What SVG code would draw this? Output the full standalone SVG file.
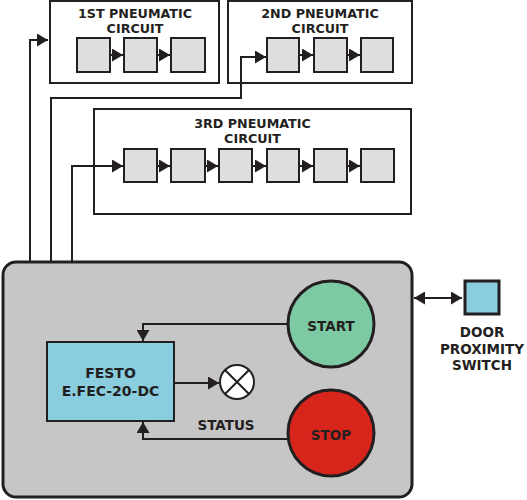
<svg xmlns="http://www.w3.org/2000/svg" width="527" height="500" viewBox="0 0 527 500">
<defs>
<marker id="ah" markerUnits="userSpaceOnUse" markerWidth="12" markerHeight="13" refX="11" refY="6.5" orient="auto-start-reverse" viewBox="0 0 12 13">
<path d="M0,0 L11,6.5 L0,13 z" fill="#231f20"/>
</marker>
<style>
.frame{fill:#fff;stroke:#231f20;stroke-width:2}
.cell{fill:#dedede;stroke:#231f20;stroke-width:2}
.t{font-family:"DejaVu Sans",Verdana,sans-serif;font-weight:bold;fill:#231f20;text-anchor:middle}
.t1{font-size:12.7px}
.t2{font-size:13.5px}
.c{fill:none;stroke:#231f20;stroke-width:2}
.a{marker-end:url(#ah)}
</style>
</defs>
<rect width="527" height="500" fill="#fff"/>

<g id="circuit1">
<rect class="frame" x="50" y="1" width="169" height="82"/>
<text class="t t1" x="135" y="18">1ST PNEUMATIC</text>
<text class="t t1" x="135" y="33">CIRCUIT</text>
<rect class="cell" x="77" y="38" width="33" height="34"/>
<rect class="cell" x="124" y="38" width="33" height="34"/>
<rect class="cell" x="171" y="38" width="34" height="34"/>
</g>

<g id="circuit2">
<rect class="frame" x="228" y="1" width="184" height="82"/>
<text class="t t1" x="320" y="18">2ND PNEUMATIC</text>
<text class="t t1" x="320" y="33">CIRCUIT</text>
<rect class="cell" x="267" y="38" width="32" height="34"/>
<rect class="cell" x="314" y="38" width="33" height="34"/>
<rect class="cell" x="361" y="38" width="32" height="34"/>
</g>

<g id="circuit3">
<rect class="frame" x="94" y="109" width="317" height="105"/>
<text class="t t1" x="252.5" y="128">3RD PNEUMATIC</text>
<text class="t t1" x="252.5" y="143">CIRCUIT</text>
<rect class="cell" x="124" y="149" width="33" height="33"/>
<rect class="cell" x="171" y="149" width="34" height="33"/>
<rect class="cell" x="219" y="149" width="33" height="33"/>
<rect class="cell" x="267" y="149" width="32" height="33"/>
<rect class="cell" x="314" y="149" width="33" height="33"/>
<rect class="cell" x="361" y="149" width="33" height="33"/>
</g>

<g id="panel">
<rect x="3" y="262" width="409" height="235" rx="13" ry="13" fill="#c6c6c6" stroke="#231f20" stroke-width="3"/>
</g>

<g id="festo">
<rect x="47" y="342" width="127" height="79" fill="#89cddf" stroke="#231f20" stroke-width="2"/>
<text class="t" font-size="14" x="110.5" y="378">FESTO</text>
<text class="t" font-size="14" x="110.5" y="396">E.FEC-20-DC</text>
</g>

<g id="status">
<circle cx="237" cy="382" r="17" fill="#fff" stroke="#231f20" stroke-width="2"/>
<path d="M225,370 L249,394 M249,370 L225,394" stroke="#231f20" stroke-width="2"/>
<text class="t t2" x="226" y="430">STATUS</text>
</g>

<g id="start">
<circle cx="331" cy="324" r="43" fill="#7dc9a3" stroke="#231f20" stroke-width="3"/>
<text class="t t2" x="331" y="331">START</text>
</g>

<g id="stop">
<circle cx="331" cy="433" r="43" fill="#d8251b" stroke="#231f20" stroke-width="3"/>
<text class="t t2" x="331" y="440">STOP</text>
</g>

<g id="door">
<rect x="465" y="281" width="34" height="33" fill="#89cddf" stroke="#231f20" stroke-width="3"/>
<text class="t t2" x="482" y="337">DOOR</text>
<text class="t t2" x="482" y="354">PROXIMITY</text>
<text class="t t2" x="482" y="370">SWITCH</text>
</g>

<g id="connectors">
<path class="c a" d="M30,262 V40 H48"/>
<path class="c a" d="M51,262 V98 H241 V57 H266"/>
<path class="c a" d="M72,262 V166 H123"/>
<path class="c a" d="M110,55 H123"/>
<path class="c a" d="M157,55 H170"/>
<path class="c a" d="M299,55 H313"/>
<path class="c a" d="M347,55 H360"/>
<path class="c a" d="M157,166 H170"/>
<path class="c a" d="M205,166 H218"/>
<path class="c a" d="M252,166 H266"/>
<path class="c a" d="M299,166 H313"/>
<path class="c a" d="M347,166 H360"/>
<path class="c a" d="M288,324 H143 V341"/>
<path class="c a" d="M288,439 H143 V422"/>
<path class="c a" d="M174,383 H219"/>
<path class="c a" d="M414,298 H462" marker-start="url(#ah)"/>
</g>
</svg>
